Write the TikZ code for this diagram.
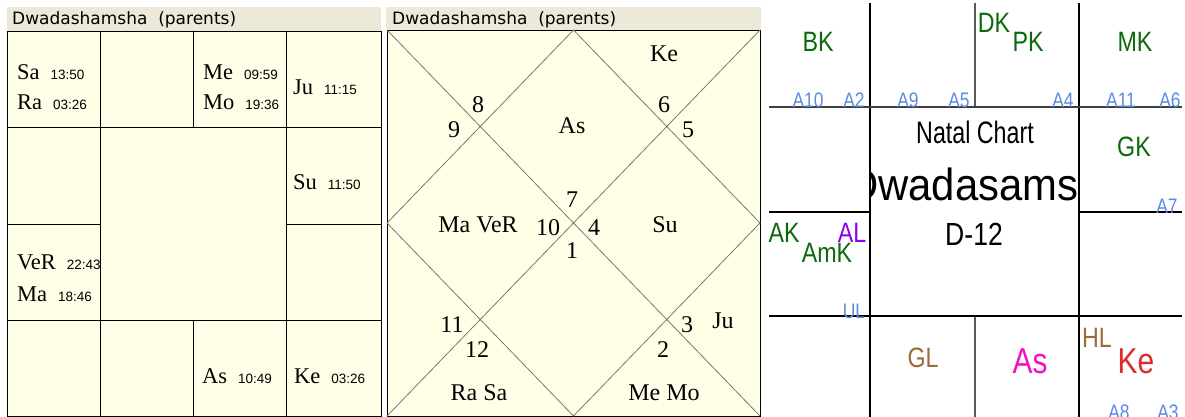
\documentclass[tikz,border=0pt]{standalone}
\usepackage{fontspec}
\setmainfont{Liberation Serif}
\newfontfamily\headfont{DejaVu Sans}
\newfontfamily\chartsans{Liberation Sans}
\newfontfamily\narrowsans{Liberation Sans}[FakeStretch=0.83]
\newfontfamily\natalsans{Liberation Sans}[FakeStretch=0.75]
\usepackage{xcolor}
\usetikzlibrary{positioning}

\definecolor{cream}{HTML}{FFFFE8}
\definecolor{headgray}{HTML}{ECE9D8}
\definecolor{diaggray}{HTML}{777777}
\definecolor{karakagreen}{HTML}{0B6B0B}
\definecolor{arudhablue}{HTML}{5B8BE0}
\definecolor{lagnaviolet}{HTML}{8B00F0}
\definecolor{lagnabrown}{HTML}{9C6B3A}
\definecolor{ascmagenta}{HTML}{F010C8}
\definecolor{ketured}{HTML}{DD2C2C}

% planet name with its degree
\newcommand{\planetdeg}[2]{#1\hspace{11pt}{\chartsans\fontsize{13.5}{13.5}\selectfont #2}}

\begin{document}
\begin{tikzpicture}[
	x=1pt, y=-1pt,
	header/.style={fill=headgray, draw=none},
	chartbox/.style={fill=cream, draw=black, line width=0.9pt},
	gridline/.style={draw=black, line width=0.9pt},
	diagline/.style={draw=diaggray, line width=0.8pt},
	headtext/.style={anchor=base west, inner sep=0pt, font=\headfont\fontsize{17}{17}\selectfont},
	southplanet/.style={anchor=base west, inner sep=0pt, font=\fontsize{22.5}{22.5}\selectfont},
	northlabel/.style={anchor=base, inner sep=0pt, font=\fontsize{24}{24}\selectfont},
	karaka/.style={anchor=base, inner sep=0pt, text=karakagreen, font=\narrowsans\fontsize{28}{28}\selectfont},
	arudha/.style={anchor=base, inner sep=0pt, text=arudhablue, font=\narrowsans\fontsize{21}{21}\selectfont},
	lagna/.style={anchor=base, inner sep=0pt, text=lagnabrown, font=\narrowsans\fontsize{28}{28}\selectfont},
	bigplanet/.style={anchor=base, inner sep=0pt, font=\narrowsans\fontsize{36}{36}\selectfont}
	]
	\useasboundingbox[fill=white] (0,0) rectangle (1185,417);

	% south indian chart
	\fill[header] (7,7) rectangle (381,31);
	\node[headtext] (southtitle) at (12,25) {Dwadashamsha\ \ (parents)};
	\path[chartbox] (7,31) rectangle (381,416);
	\foreach \y in {127,320}
		\draw[gridline] (7,\y) -- (381,\y);
	\draw[gridline] (7,224) -- (100,224);
	\draw[gridline] (286,224) -- (381,224);
	\foreach \x in {100,286}
		\draw[gridline] (\x,31) -- (\x,416);
	\draw[gridline] (193,31) -- (193,127);
	\draw[gridline] (193,320) -- (193,416);

	\node[southplanet] (sa) at (17,80) {\planetdeg{Sa}{13:50}};
	\node[southplanet] (ra) at (17,110) {\planetdeg{Ra}{03:26}};
	\node[southplanet] (me) at (203,80) {\planetdeg{Me}{09:59}};
	\node[southplanet] (mo) at (203,110) {\planetdeg{Mo}{19:36}};
	\node[southplanet] (ju) at (293,95) {\planetdeg{Ju}{11:15}};
	\node[southplanet] (su) at (293,189) {\planetdeg{Su}{11:50}};
	\node[southplanet] (ver) at (17,269) {\planetdeg{VeR}{22:43}};
	\node[southplanet] (ma) at (17,301) {\planetdeg{Ma}{18:46}};
	\node[southplanet] (as) at (202,383) {\planetdeg{As}{10:49}};
	\node[southplanet] (ke) at (294,383) {\planetdeg{Ke}{03:26}};

	% north indian chart
	\fill[header] (386,7) rectangle (761,30);
	\node[headtext] (northtitle) at (392,25) {Dwadashamsha\ \ (parents)};
	\path[chartbox] (387,30) rectangle (760,416);
	\draw[diagline] (387,30) -- (760,416);
	\draw[diagline] (760,30) -- (387,416);
	\draw[diagline] (573.5,30) -- (760,223) -- (573.5,416) -- (387,223) -- cycle;

	\node[northlabel] (h1) at (572,258) {1};
	\node[northlabel] (h2) at (663,357) {2};
	\node[northlabel] (h3) at (687,332) {3};
	\node[northlabel] (h4) at (594,235) {4};
	\node[northlabel] (h5) at (688,138) {5};
	\node[northlabel] (h6) at (664,113) {6};
	\node[northlabel] (h7) at (572,207) {7};
	\node[northlabel] (h8) at (478,113) {8};
	\node[northlabel] (h9) at (454,138) {9};
	\node[northlabel] (h10) at (548,235) {10};
	\node[northlabel] (h11) at (452,332) {11};
	\node[northlabel] (h12) at (477,357) {12};

	\node[northlabel] (nke) at (664,62) {Ke};
	\node[northlabel] (nas) at (572,133) {As};
	\node[northlabel] (nmaver) at (478,232) {Ma VeR};
	\node[northlabel] (nsu) at (665,232) {Su};
	\node[northlabel] (nju) at (723,328) {Ju};
	\node[northlabel] (nrasa) at (479,400) {Ra Sa};
	\node[northlabel] (nmemo) at (664,400) {Me Mo};

	% natal chart with karakas and arudhas
	\draw[gridline, line width=1.3pt] (870,3) -- (870,417);
	\draw[gridline, line width=1.3pt] (1079,3) -- (1079,417);
	\draw[diagline, line width=1.3pt, draw=black!65] (975,3) -- (975,107);
	\draw[diagline, line width=1.3pt, draw=black!65] (975,316) -- (975,417);
	\draw[gridline, line width=1.3pt, draw=black!75] (769,107) -- (1182,107);
	\draw[gridline, line width=1.3pt] (769,212) -- (870,212);
	\draw[gridline, line width=1.3pt] (1079,212) -- (1182,212);
	\draw[gridline, line width=1.3pt] (769,316) -- (1182,316);

	\node[anchor=base, inner sep=0pt, font=\natalsans\fontsize{31}{31}\selectfont] (natal) at (975,143) {Natal Chart};
	\begin{scope}
		\clip (870,107) rectangle (1079,316);
		\node[anchor=base, inner sep=0pt, font=\chartsans\fontsize{45}{45}\selectfont, xscale=0.93, transform shape] (varganame) at (975,200) {Dwadasamsa};
	\end{scope}
	\node[anchor=base, inner sep=0pt, font=\narrowsans\fontsize{32}{32}\selectfont] (dtwelve) at (974,245) {D-12};

	\node[karaka] (bk) at (818,52) {BK};
	\node[karaka] (dk) at (994,33) {DK};
	\node[karaka] (pk) at (1028,52) {PK};
	\node[karaka] (mk) at (1135,52) {MK};
	\node[karaka] (gk) at (1134,157) {GK};
	\node[karaka] (ak) at (784,242) {AK};
	\node[karaka] (amk) at (827,262) {AmK};
	\node[karaka, text=lagnaviolet] (al) at (852,242) {AL};

	\node[arudha] (a10) at (808,108) {A10};
	\node[arudha] (a2) at (854,108) {A2};
	\node[arudha] (a9) at (908,108) {A9};
	\node[arudha] (a5) at (959,108) {A5};
	\node[arudha] (a4) at (1063,108) {A4};
	\node[arudha] (a11) at (1121,108) {A11};
	\node[arudha] (a6) at (1170,108) {A6};
	\node[arudha] (a7) at (1167,213) {A7};
	\node[arudha] (ul) at (854,318) {UL};
	\node[arudha] (a8) at (1119,419) {A8};
	\node[arudha] (a3) at (1168,419) {A3};

	\node[lagna] (gl) at (923,367) {GL};
	\node[lagna] (hl) at (1097,347) {HL};
	\node[bigplanet, text=ascmagenta] (asc) at (1030,373) {As};
	\node[bigplanet, text=ketured] (ketu) at (1136,373) {Ke};
\end{tikzpicture}
\end{document}
